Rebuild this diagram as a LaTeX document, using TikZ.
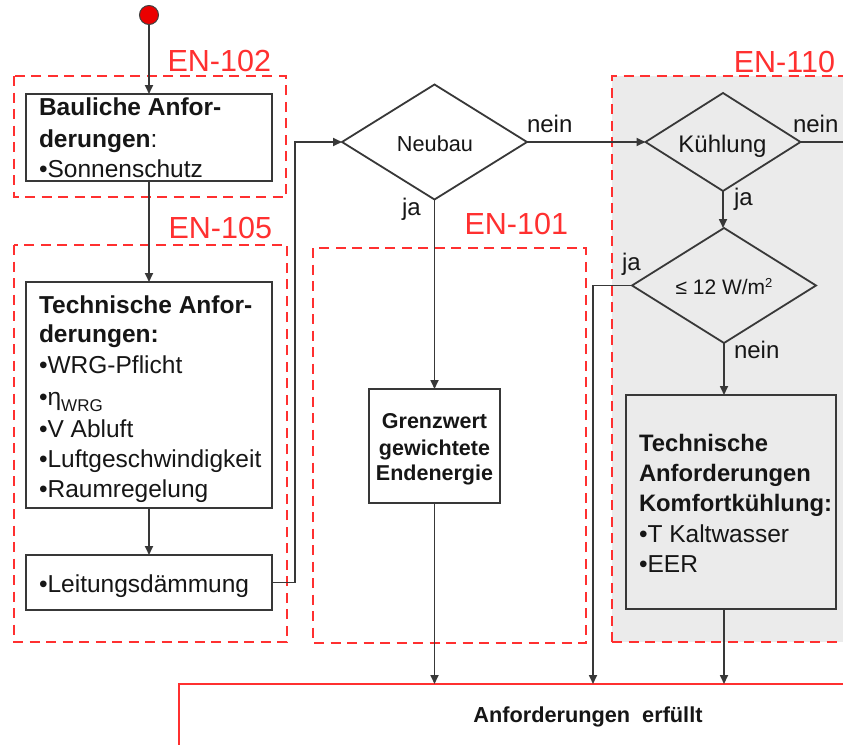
\documentclass[tikz,border=0pt]{standalone}
\usepackage{fontspec}
\setmainfont{Liberation Sans}
\usetikzlibrary{shapes.geometric,arrows.meta}
\definecolor{enred}{HTML}{FF3030}
\definecolor{ln}{HTML}{383838}
\definecolor{tx}{HTML}{161616}
\definecolor{gfill}{HTML}{EBEBEB}
\begin{document}
\begin{tikzpicture}[x=1pt,y=-1pt,
  every node/.style={inner sep=0pt, outer sep=0pt, text=tx},
  box/.style={draw=ln, line width=2pt, rectangle},
  enbox/.style={draw=enred, line width=2.4pt, dash pattern=on 10pt off 6.5pt},
  enlab/.style={text=enred, font=\fontsize{30.5}{30}\selectfont, anchor=base east},
  dia/.style={diamond, draw=ln, line width=1.8pt},
  conn/.style={draw=ln, line width=1.7pt},
  arr/.style={conn, -{Triangle[length=9pt,width=8pt]}},
  tl/.style={font=\fontsize{24.5}{30}\selectfont, anchor=base west},
  tb/.style={font=\fontsize{24.5}{30}\selectfont\bfseries, anchor=base west},
  tk/.style={font=\fontsize{23.8}{30}\selectfont\bfseries, anchor=base west},
  tg/.style={font=\fontsize{21.5}{26}\selectfont\bfseries, anchor=base},
  lab/.style={font=\fontsize{24}{28}\selectfont, anchor=base west},
]
\path[use as bounding box] (0,0) rectangle (843,744);
\fill[white] (0,0) rectangle (843,744);

% EN groups
\path[fill=gfill] (612,76) rectangle (870,642);
\draw[enbox] (612,642) -- (612,76) -- (870,76);
\draw[enbox] (612,642) -- (870,642);
\draw[enbox] (14,76) rectangle (286,197);
\draw[enbox] (14,245) rectangle (287,642);
\draw[enbox] (313,248) rectangle (586,643);
\node[enlab] (en102) at (271,71) {EN-102};
\node[enlab] (en105) at (272,238) {EN-105};
\node[enlab] (en101) at (568,234) {EN-101};
\node[enlab] (en110) at (835,72) {EN-110};

% start
\node[circle, fill=red!92!black, draw=black!75, line width=1pt, minimum size=19pt] (s) at (149,15) {};

% boxes
\node[box, fill=white, minimum width=246pt, minimum height=87pt] (b1) at (149,137.5) {};
\node[box, fill=white, minimum width=246pt, minimum height=226pt] (b2) at (149,395) {};
\node[box, fill=white, minimum width=246pt, minimum height=55pt] (b3) at (149,582.5) {};
\node[box, fill=white, minimum width=131pt, minimum height=114pt] (gw) at (434.5,446) {};
\node[box, fill=gfill, minimum width=210pt, minimum height=214pt] (kk) at (731,502) {};
\node[draw=enred, line width=2.4pt, minimum width=701pt, minimum height=76pt] (end) at (529.5,722) {};

% diamonds
\node[dia, minimum width=185pt, minimum height=115pt] (neubau) at (434.5,142) {};
\node[dia, minimum width=155pt, minimum height=98pt] (kuehl) at (723,142) {};
\node[dia, minimum width=184pt, minimum height=115pt] (le) at (724,285.5) {};

% texts
\node[tb] (t1a) at (39,115) {Bauliche Anfor-};
\node[tl] (t1b) at (39,147) {\textbf{derungen}:};
\node[tl] (t1c) at (39,177) {•Sonnenschutz};

\node[tb] (t2a) at (39,313) {Technische Anfor-};
\node[tb] (t2b) at (39,342) {derungen:};
\node[tl] (t2c) at (39,373) {•WRG-Pflicht};
\node[tl] (t2d) at (39,405) {•η\raisebox{-6pt}{\fontsize{17}{17}\selectfont WRG}};
\node[tl] (t2e) at (39,437) {•V Abluft};
\node[tl] (t2f) at (39,467) {•Luftgeschwindigkeit};
\node[tl] (t2g) at (39,497) {•Raumregelung};

\node[tl] (t3) at (39,592) {•Leitungsdämmung};

\node[tg] (tg1) at (434.5,428) {Grenzwert};
\node[tg] (tg2) at (434.5,455) {gewichtete};
\node[tg] (tg3) at (434.5,480) {Endenergie};

\node[tk] (tk1) at (639,451) {Technische};
\node[tk] (tk2) at (639,481) {Anforderungen};
\node[tk] (tk3) at (639,511) {Komfortkühlung:};
\node[tl] (tk4) at (639,542) {•T Kaltwasser};
\node[tl] (tk5) at (639,572) {•EER};

\node[font=\fontsize{21.7}{24}\selectfont, anchor=base] (tn) at (435,151) {Neubau};
\node[font=\fontsize{24}{24}\selectfont, anchor=base] (tku) at (722.5,152) {Kühlung};
\node[font=\fontsize{21}{24}\selectfont, anchor=base] (tle) at (724,294) {≤ 12 W/m\raisebox{7pt}{\fontsize{13}{13}\selectfont 2}};
\node[font=\fontsize{21.7}{24}\selectfont\bfseries, anchor=base] (tend) at (588,722) {Anforderungen\ \ erfüllt};

\node[lab] (l1) at (527,132) {nein};
\node[lab] (l2) at (793,132) {nein};
\node[lab] (l3) at (402,215) {ja};
\node[lab] (l4) at (734,205) {ja};
\node[lab] (l5) at (622,270) {ja};
\node[lab] (l6) at (734,358) {nein};

% connectors
\coordinate (kout) at (843,142);
\coordinate (jaturn) at (593,285.5);
\draw[arr] (s) -- (b1);
\draw[arr] (b1) -- (b2);
\draw[arr] (b2) -- (b3);
\draw[arr] (b3.east) -- ([xshift=23pt]b3.east) |- (neubau.west);
\draw[arr] (neubau.east) -- (kuehl.west);
\draw[conn] (kuehl.east) -- (kout);
\draw[arr] (neubau.south) -- (gw.north);
\draw[arr] (kuehl.south) -- (kuehl.south |- le.north);
\draw[arr] (le.south) -- (le.south |- kk.north);
\draw[arr] (le.west) -- (jaturn) -- (jaturn |- end.north);
\draw[arr] (gw.south) -- (gw.south |- end.north);
\draw[arr] (le.south |- kk.south) -- (le.south |- end.north);
\end{tikzpicture}
\end{document}
